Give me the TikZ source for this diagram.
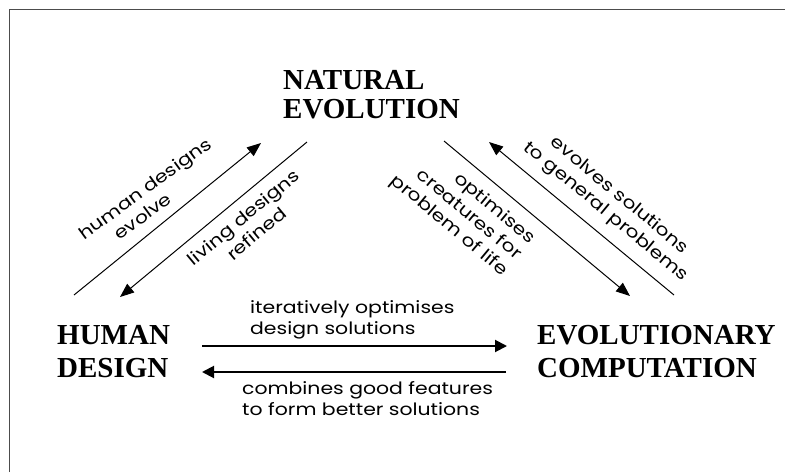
\documentclass[tikz,border=0pt]{standalone}
\usepackage{fontspec}
\setmainfont{Liberation Serif}
\newfontfamily\gothic[FakeStretch=1.2]{Poppins}
\usetikzlibrary{arrows.meta}
\tikzset{
  title/.style={font=\fontsize{29}{33}\selectfont\bfseries, align=left, inner sep=0pt, anchor=north west},
  note/.style={font=\gothic\fontsize{17}{21}\selectfont, inner sep=1pt},
  arr/.style={line width=1pt, >={Triangle[length=14pt,width=11pt]}},
  bigarr/.style={line width=2pt, >={Triangle[length=12pt,width=12pt]}},
}
\begin{document}
\begin{tikzpicture}[x=1pt,y=-1pt]
  \useasboundingbox (0,0) rectangle (785,472);
  \draw[gray!60!black, line width=1pt] (9,472) |- (785,9);
  % the three fields
  \node[title, font=\fontsize{29}{29}\selectfont\bfseries] (nat) at (283,70) {NATURAL\\EVOLUTION};
  \node[title] (hum) at (57,325) {HUMAN\\DESIGN};
  \node[title] (evc) at (537,325) {EVOLUTIONARY\\COMPUTATION};
  % arrow ends
  \coordinate (hn1) at (74,295);  \coordinate (hn2) at (261,143);
  \coordinate (nh1) at (307,142); \coordinate (nh2) at (120,297);
  \coordinate (ne1) at (444,141); \coordinate (ne2) at (630,296);
  \coordinate (en1) at (674,295); \coordinate (en2) at (489,142);
  \coordinate (he1) at (202,346); \coordinate (he2) at (507,346);
  \coordinate (eh1) at (506,372); \coordinate (eh2) at (202,372);
  % between human design and natural evolution
  \draw[arr, ->] (hn1) -- (hn2)
    node[note, pos=0.5, above=9pt, sloped, rotate=-3, align=center] {human designs\\evolve\hspace*{36pt}};
  \draw[arr, <-] (nh2) -- (nh1)
    node[note, pos=0.6, below=9pt, sloped, align=center] {living designs\\refined};
  % between natural evolution and evolutionary computation
  \draw[arr, ->] (ne1) -- (ne2)
    node[note, pos=0.24, below=10pt, sloped, align=right] {optimises\\creatures for\\problem of life};
  \draw[arr, <-] (en2) -- (en1)
    node[note, pos=0.56, above=10pt, sloped, align=center] {evolves solutions\\to general problems};
  % between human design and evolutionary computation
  \draw[bigarr, ->] (he1) -- (he2);
  \draw[bigarr, ->] (eh1) -- (eh2);
  \node[note, align=left, anchor=north west, inner sep=0pt] (iter) at (250,300) {iteratively optimises\\design solutions};
  \node[note, align=left, anchor=north west, inner sep=0pt] (comb) at (242,381) {combines good features\\to form better solutions};
\end{tikzpicture}
\end{document}
